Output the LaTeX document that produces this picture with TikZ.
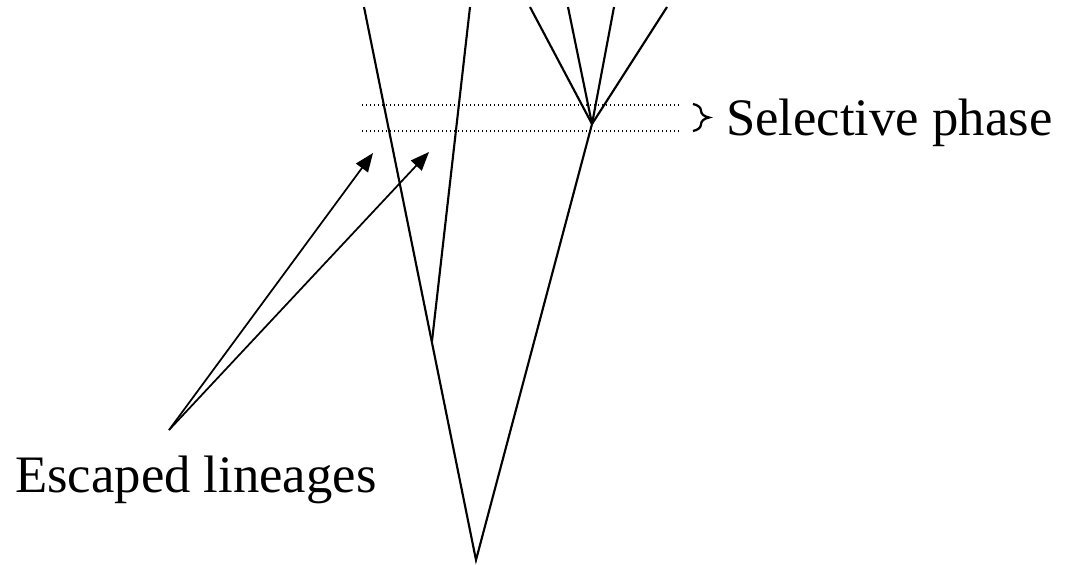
\documentclass[tikz,border=0pt]{standalone}
\usepackage{fontspec}
\setmainfont{Liberation Serif}
\usetikzlibrary{arrows.meta, positioning, decorations.pathreplacing}
\tikzset{
  lin/.style={line width=1.6pt, black},
  sel/.style={dotted, line width=1pt, black},
  parr/.style={-{Triangle[length=14pt, width=11pt]}, line width=1.3pt, black},
  lbl/.style={font=\fontsize{39.5}{46}\selectfont, inner sep=0pt},
}

\begin{document}
\begin{tikzpicture}[x=0.75pt, y=-0.75pt]
  \useasboundingbox (0,0) rectangle (1077,564);

  % Tree points
  \coordinate (root) at (476,560);
  \coordinate (br) at (432,341);
  \coordinate (star) at (592,124);
  \coordinate (t1) at (364,7);
  \coordinate (t2) at (470,7);
  \coordinate (t3) at (530,7);
  \coordinate (t4) at (568,7);
  \coordinate (t5) at (614,7);
  \coordinate (t6) at (667,7);

  % Lineages
  \draw[lin] (t1) -- (root) -- (star);
  \draw[lin] (br) -- (t2);
  \foreach \t in {t3,t4,t5,t6}
    \draw[lin] (star) -- (\t);

  % Selective phase band
  \coordinate (s1) at (362,105);
  \coordinate (s2) at (680,105);
  \coordinate (s3) at (362,131);
  \coordinate (s4) at (680,131);
  \draw[sel] (s1) -- (s2);
  \draw[sel] (s3) -- (s4);
  \coordinate (b1) at (693,104);
  \coordinate (b2) at (693,131);
  \draw[line width=1.7pt, decorate, decoration={brace, amplitude=12pt}] (b1) -- (b2);
  \node[lbl, anchor=base west] (phase) at (726,135) {Selective phase};

  % Escaped lineages
  \node[lbl, anchor=base west] (esc) at (15,492) {Escaped lineages};
  \coordinate (src) at (169,430);
  \coordinate (e1) at (373,153);
  \coordinate (e2) at (429,152);
  \draw[parr] (src) -- (e1);
  \draw[parr] (src) -- (e2);

\end{tikzpicture}
\end{document}
